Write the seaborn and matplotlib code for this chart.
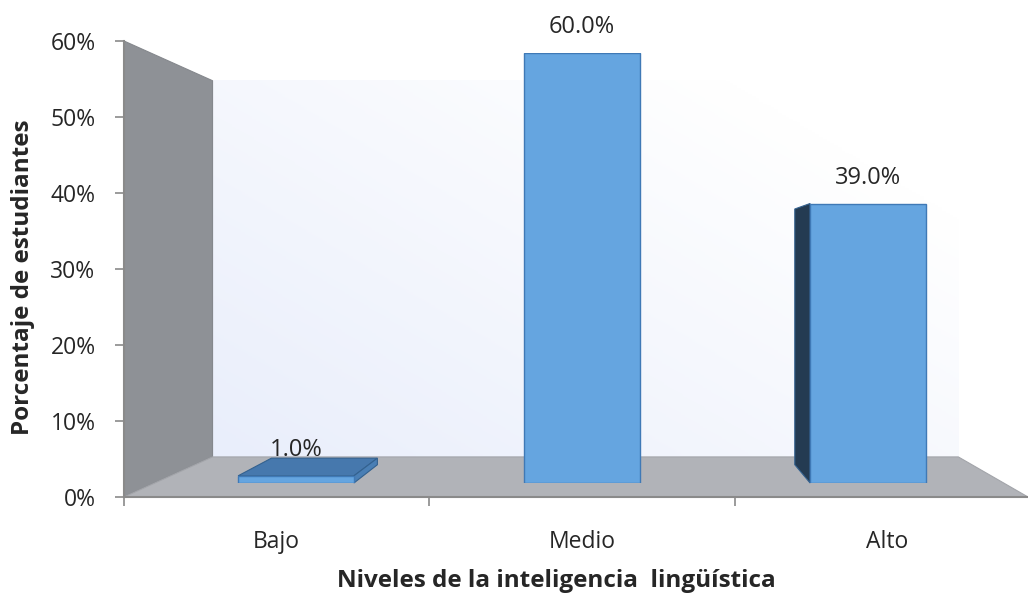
import numpy as np
import matplotlib
matplotlib.use("Agg")
import matplotlib.pyplot as plt
import seaborn as sns
from matplotlib.patches import Polygon
from matplotlib.colors import LinearSegmentedColormap

# Data
niveles = ["Bajo", "Medio", "Alto"]
porcentajes = [1.0, 60.0, 39.0]
y_ticks = [0, 10, 20, 30, 40, 50, 60]
y_tick_labels = [f"{t}%" for t in y_ticks]

W, H, DPI = 1028, 600, 100

sns.set_theme(style="white")
plt.rcParams["font.family"] = ["Open Sans", "DejaVu Sans"]

fig = plt.figure(figsize=(W / DPI, H / DPI), dpi=DPI)
fig.patch.set_facecolor("white")


def rect(left, top, right, bottom):
    """Axes rectangle from pixel edges (y measured downward)."""
    return [left / W, 1 - bottom / H, (right - left) / W, (bottom - top) / H]


# ---- scene: walls and floor of the 3-D box, in pixel coordinates ----
scene = fig.add_axes([0, 0, 1, 1])
scene.set_xlim(0, W)
scene.set_ylim(H, 0)
scene.axis("off")

VP = np.array([630.0, 268.0])     # vanishing point (eye level = VP[1])
BACK = 0.825                      # scale of the back plane
BAR_DEPTH = 0.915                 # scale of the back of each bar (relative to its front)
F_L, F_T, F_R, F_B = 124, 41, 1028, 497


def toward_vp(p, k):
    p = np.asarray(p, dtype=float)
    return VP + k * (p - VP)


bl_t = toward_vp((F_L, F_T), BACK)
bl_b = toward_vp((F_L, F_B), BACK)
br_b = toward_vp((F_R, F_B), BACK)

# back wall with soft gradient
gx = np.linspace(0, 1, 200)
gy = np.linspace(0, 1, 200)
GX, GY = np.meshgrid(gx, gy)
t = np.clip(0.65 * GX + 0.55 * (1 - GY), 0, 1)
wall_cmap = LinearSegmentedColormap.from_list("wall", ["#e9eefb", "#ffffff"])
scene.imshow(t, extent=[bl_t[0], br_b[0], br_b[1], bl_t[1]], cmap=wall_cmap,
             aspect="auto", origin="upper", zorder=1, interpolation="bilinear")
scene.set_xlim(0, W)
scene.set_ylim(H, 0)

# left side wall
scene.add_patch(Polygon([(F_L, F_T), (F_L, F_B), bl_b, bl_t], closed=True,
                        facecolor="#8e9196", edgecolor="#85888d", lw=0.8, zorder=2))
# floor
scene.add_patch(Polygon([(F_L, F_B), (F_R, F_B), br_b, bl_b], closed=True,
                        facecolor="#b1b3b8", edgecolor="#a3a5aa", lw=0.8, zorder=2))

# ---- bars (front faces) ----
ax_bar = fig.add_axes(rect(153, 53, 1011, 483))
sns.barplot(x=niveles, y=porcentajes, ax=ax_bar, width=0.405, color="#65a5e0",
            saturation=1, edgecolor="#3f79b6", linewidth=1.0)
ax_bar.set_xlim(-0.5, 2.5)
ax_bar.set_ylim(0, 60)
ax_bar.axis("off")
ax_bar.patch.set_alpha(0)

# visible side / top faces of each bar, projected toward the vanishing point
face_colors = {"top": "#4678ad", "bottom": "#2e527a", "left": "#243b52", "right": "#4a7fb5"}
to_scene = scene.transData.inverted()
for patch, val in zip(ax_bar.patches, porcentajes):
    x0, x1 = patch.get_x(), patch.get_x() + patch.get_width()
    h = patch.get_height()
    corners = {"bl": (x0, 0), "br": (x1, 0), "tr": (x1, h), "tl": (x0, h)}
    fr = {k: to_scene.transform(ax_bar.transData.transform(v)) for k, v in corners.items()}
    bk = {k: toward_vp(v, BAR_DEPTH) for k, v in fr.items()}
    visible = {
        "top": fr["tl"][1] > VP[1],
        "bottom": fr["bl"][1] < VP[1],
        "left": fr["tl"][0] > VP[0],
        "right": fr["tr"][0] < VP[0],
    }
    edges = {"top": ("tl", "tr"), "bottom": ("bl", "br"),
             "left": ("bl", "tl"), "right": ("br", "tr")}
    for name, (a, b) in edges.items():
        if not visible[name]:
            continue
        poly = [fr[a], fr[b], bk[b], bk[a]]
        scene.add_patch(Polygon(poly, closed=True, facecolor=face_colors[name],
                                edgecolor="#33618f", lw=0.8, zorder=5))
    ax_bar.annotate(f"{val:.1f}%", (patch.get_x() + patch.get_width() / 2, h),
                    xytext=(0, 20), textcoords="offset pixels", ha="center",
                    va="baseline", fontsize=17, color="#262626")

# ---- frame axes: ticks and axis lines on the front plane ----
ax = fig.add_axes(rect(124, 41, 124 + 3 * 305.3, 497))
ax.patch.set_alpha(0)
ax.set_xlim(-0.5, 2.5)
ax.set_ylim(0, 60)
ax.set_yticks(y_ticks)
ax.set_yticklabels(y_tick_labels)
ax.set_xticks([-0.5, 0.5, 1.5, 2.5])
ax.set_xticklabels([])
ax.set_xticks([0, 1, 2], minor=True)
ax.set_xticklabels(niveles, minor=True)
for s in ["top", "right"]:
    ax.spines[s].set_visible(False)
for s in ["left", "bottom"]:
    ax.spines[s].set_color("#8a8a8a")
    ax.spines[s].set_linewidth(1.5)
ax.tick_params(axis="y", which="major", length=6.5, width=1.2, color="#8a8a8a",
               pad=14, labelsize=16.5, labelcolor="#262626", left=True)
ax.tick_params(axis="x", which="major", length=6.5, width=1.2, color="#8a8a8a",
               bottom=True)
ax.tick_params(axis="x", which="minor", length=0, pad=24, labelsize=16.5,
               labelcolor="#262626", bottom=True)
ax.grid(False)

fig.text(23 / W, 1 - 277 / H, "Porcentaje de estudiantes", rotation=90,
         ha="center", va="center", fontsize=17.5, fontweight="bold", color="#262626")
fig.text(556 / W, 1 - 581 / H, "Niveles de la inteligencia  lingüística",
         ha="center", va="center", fontsize=17.5, fontweight="bold", color="#262626")

fig.savefig("out.png", dpi=DPI)
